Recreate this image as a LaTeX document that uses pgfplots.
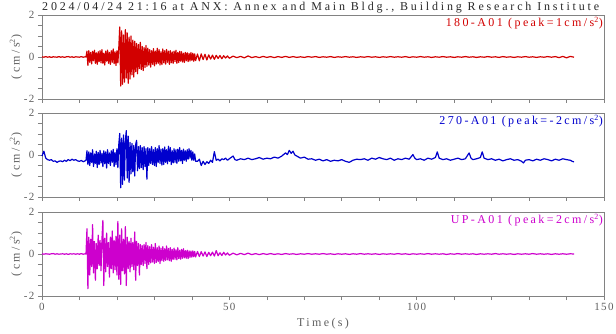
\documentclass[border=0pt]{standalone}
\usepackage{pgfplots}
\pgfplotsset{compat=1.18}
\usepackage{fontspec}
\setmainfont{Liberation Serif}
\newfontfamily\spaced[LetterSpace=20]{Liberation Serif}
\newfontfamily\tspaced[LetterSpace=23.5]{Liberation Serif}
\newfontfamily\tickspaced[LetterSpace=12]{Liberation Serif}
\definecolor{cred}{RGB}{210,0,0}
\definecolor{cblue}{RGB}{0,0,205}
\definecolor{cmag}{RGB}{205,0,205}
\definecolor{axgray}{RGB}{130,130,130}
\definecolor{lblgray}{RGB}{95,95,95}
\definecolor{ttl}{RGB}{40,40,40}
\newcommand{\lblfont}{\spaced\fontsize{12}{12}\selectfont}
\newcommand{\ttlfont}{\tspaced\fontsize{12}{12}\selectfont}
\newcommand{\tkfont}{\tickspaced\fontsize{11}{11}\selectfont}
\begin{document}
\begin{tikzpicture}
\pgfplotsset{
  seis/.style={
    width=562pt, height=84pt, scale only axis,
    xmin=0, xmax=150, ymin=-2, ymax=2,
    xtick={0,50,100,150}, minor xtick={10,20,30,40,60,70,80,90,110,120,130,140},
    ytick={-2,0,2}, minor ytick={-1.5,-1,-0.5,0.5,1,1.5},
    tick align=outside, xtick pos=bottom, ytick pos=left,
    major tick length=4pt, minor tick length=4pt,
    axis line style={draw=axgray, line width=0.8pt},
    every tick/.style={draw=axgray, line width=0.6pt},
    tick label style={font=\tkfont, text=lblgray},
    /pgf/number format/assume math mode=true,
    ylabel={(cm/s\textsuperscript{2})},
    ylabel style={font=\lblfont, text=lblgray, at={([xshift=-26pt]axis description cs:0,0.5)}, anchor=center},
    clip=false,
  },
  sig/.style={line width=1.2pt, line join=round},
}
\begin{axis}[seis, at={(42pt,-99pt)}, anchor=south west, xticklabels={}]
\addplot[draw=cred, sig] coordinates {
(0,0.01)(0.5,-0.01)(1,0.02)(1.5,-0.01)(2,0.01)(2.5,-0.02)(3,0.01)(3.5,0)(4,-0.01)(4.5,0.02)(5,-0.01)(5.5,0.01)(6,-0.02)(6.5,0.01)(7,0.02)(7.5,-0.01)(8,0.01)(8.5,-0.02)(9,0.01)(9.5,0)(10,-0.01)(10.5,0.02)(11,-0.01)(11.5,0.01)(11.75,0)
(12,0.28)(12.25,-0.40)(12.5,0.30)(12.75,-0.25)(13,0.22)(13.25,-0.33)(13.5,0.27)(13.75,-0.18)(14,0.32)(14.25,-0.30)(14.5,0.20)(14.75,-0.35)(15,0.25)(15.25,-0.22)(15.5,0.30)(15.75,-0.28)(16,0.35)(16.25,-0.30)(16.5,0.18)(16.75,-0.38)(17,0.28)(17.25,-0.20)(17.5,0.33)(17.75,-0.30)(18,0.22)(18.25,-0.35)(18.5,0.30)(18.75,-0.25)(19,0.38)(19.25,-0.32)(19.5,0.25)(19.75,-0.40)(20,0.30)(20.25,-0.28)(20.5,0.45)
(20.75,1.43)(21,-1.38)(21.25,1.25)(21.5,-1.30)(21.75,1.05)(22,-1.20)(22.25,1.30)(22.5,-1.00)(22.75,1.15)(23,-1.25)(23.25,0.95)(23.5,-1.05)(23.75,1.00)(24,-0.85)(24.25,0.80)(24.5,-0.95)(24.75,0.75)(25,-0.70)(25.25,0.65)(25.5,-0.80)(25.75,0.60)(26,-0.55)(26.25,0.70)(26.5,-0.60)(26.75,0.50)(27,-0.65)(27.25,0.45)(27.5,-0.50)(27.75,0.55)(28,-0.45)
(28.25,0.42)(28.5,-0.38)(28.75,0.35)(29,-0.48)(29.25,0.30)(29.5,-0.35)(29.75,0.40)(30,-0.42)(30.25,0.28)(30.5,-0.33)(30.75,0.42)(31,-0.30)(31.25,0.35)(31.5,-0.38)(31.75,0.25)(32,-0.36)(32.25,0.38)(32.5,-0.28)(32.75,0.30)(33,-0.34)(33.25,0.36)(33.5,-0.25)(33.75,0.28)(34,-0.35)(34.25,0.30)(34.5,-0.27)(34.75,0.24)(35,-0.30)(35.25,0.28)(35.5,-0.22)(35.75,0.32)(36,-0.30)(36.25,0.22)(36.5,-0.26)(36.75,0.27)(37,-0.20)(37.25,0.25)(37.5,-0.24)(37.75,0.18)(38,-0.26)(38.25,0.22)(38.5,-0.18)(38.75,0.20)(39,-0.22)(39.25,0.17)(39.5,-0.19)(39.75,0.21)(40,-0.16)(40.25,0.18)(40.5,-0.20)(40.75,0.15)(41,-0.17)
(41.5,0.14)(42,-0.18)(42.5,0.15)(43,-0.12)(43.5,0.13)(44,-0.14)(44.5,0.10)(45,-0.10)(45.5,0.09)(46,-0.11)(46.5,0.08)(47,-0.07)(47.5,0.07)(48,-0.08)(48.5,0.06)(49,-0.05)(49.5,0.05)(50,-0.06)
(51,0.04)(52,-0.03)(53,0.03)(54,-0.04)(55,0.05)(56,-0.03)(57,0.02)(58,-0.03)(59,0.03)(60,-0.02)(61,0.02)(62,-0.03)(63,0.02)(64,-0.02)(65,0.03)(66,-0.02)(67,0.02)(68,-0.02)(69,0.01)(70,-0.02)(71,0.02)(72,-0.01)(73,0.02)(74,-0.02)(75,0.01)(76,-0.01)(77,0.02)(78,-0.02)(79,0.01)(80,-0.01)(81,0.02)(82,-0.01)(83,0.01)(84,-0.02)(85,0.01)(86,-0.01)(87,0.02)(88,-0.01)(89,0.01)(90,-0.02)(91,0.01)(92,-0.01)(93,0.02)(94,-0.01)(95,0.01)(96,-0.01)(97,0.02)(98,-0.02)(99,0.01)(100,-0.01)(101,0.02)(102,-0.01)(103,0.01)(104,-0.02)(105,0.01)(106,-0.01)(107,0.02)(108,-0.01)(109,0.01)(110,-0.02)(111,0.01)(112,-0.01)(113,0.02)(114,-0.01)(115,0.01)(116,-0.02)(117,0.01)(118,-0.01)(119,0.02)(120,-0.01)(121,0.01)(122,-0.02)(123,0.02)(124,-0.01)(125,0.01)(126,-0.02)(127,0.01)(128,-0.01)(129,0.02)(130,-0.01)(131,0.01)(132,-0.02)(133,0.01)(134,-0.01)(135,0.02)(136,-0.01)(137,0.02)(138,-0.03)(139,0.03)(140,-0.04)(141,0.03)(142,-0.01)
};
\node[anchor=north east, inner sep=0pt, text=cred, font=\lblfont] at ([xshift=-1pt,yshift=-2pt]rel axis cs:1,1) {180-A01 (peak=1cm/s\textsuperscript{2})};
\node[anchor=base west, inner sep=0pt, text=ttl, font=\ttlfont] at ([yshift=4.5pt]rel axis cs:0,1) {2024/04/24 21:16 at ANX: Annex and Main Bldg., Building Research Institute};
\end{axis}
\begin{axis}[seis, at={(42pt,-197pt)}, anchor=south west, xticklabels={}]
\addplot[draw=cblue, sig] coordinates {
(0,-0.05)(0.5,0.18)(1,-0.15)(1.5,-0.22)(2,-0.25)(2.5,-0.22)(3,-0.30)(3.5,-0.28)(4,-0.35)(4.5,-0.30)(5,-0.28)(5.5,-0.32)(6,-0.25)(6.5,-0.30)(7,-0.22)(7.5,-0.27)(8,-0.20)(8.5,-0.25)(9,-0.22)(9.5,-0.28)(10,-0.30)(10.5,-0.26)(11,-0.32)(11.5,-0.28)(11.75,-0.25)
(12,0.20)(12.25,-0.45)(12.5,0.15)(12.75,-0.50)(13,0.10)(13.25,-0.35)(13.5,0.25)(13.75,-0.55)(14,0.05)(14.25,-0.40)(14.5,0.18)(14.75,-0.60)(15,0.12)(15.25,-0.45)(15.5,0.22)(15.75,-0.38)(16,0.08)(16.25,-0.55)(16.5,0.20)(16.75,-0.42)(17,0.15)(17.25,-0.62)(17.5,0.25)(17.75,-0.40)(18,0.10)(18.25,-0.50)(18.5,0.20)(18.75,-0.35)(19,0.27)(19.25,-0.55)(19.5,0.12)(19.75,-0.45)(20,0.30)(20.25,-0.60)(20.5,0.50)
(20.75,1.03)(21,-1.56)(21.25,0.80)(21.5,-1.40)(21.75,0.95)(22,-1.20)(22.25,0.70)(22.5,1.16)(22.75,-1.10)(23,0.90)(23.25,-1.30)(23.5,0.60)(23.75,-0.90)(24,0.55)(24.25,-0.80)(24.5,0.45)(24.75,-1.00)(25,0.50)(25.25,0.70)(25.5,-0.75)(25.75,0.40)(26,-0.65)(26.25,0.45)(26.5,-0.60)(26.75,0.35)(27,-0.70)(27.25,0.40)(27.5,-0.55)(27.75,0.30)(28,-1.15)
(28.25,0.35)(28.5,-0.50)(28.75,0.30)(29,-0.40)(29.25,0.40)(29.5,-0.45)(29.75,0.25)(30,-0.50)(30.25,0.35)(30.5,-0.55)(30.75,0.30)(31,-0.35)(31.25,0.45)(31.5,-0.40)(31.75,0.28)(32,-0.48)(32.25,0.30)(32.5,-0.45)(32.75,0.38)(33,-0.35)(33.25,0.25)(33.5,-0.42)(33.75,0.42)(34,-0.30)(34.25,0.35)(34.5,-0.45)(34.75,0.20)(35,-0.38)(35.25,0.30)(35.5,-0.35)(35.75,0.25)(36,-0.40)(36.25,0.28)(36.5,-0.30)(36.75,0.35)(37,-0.28)(37.25,0.22)(37.5,-0.40)(37.75,0.28)(38,-0.25)(38.25,0.20)(38.5,-0.30)(38.75,0.25)(39,-0.20)(39.25,0.30)(39.5,-0.15)(39.75,0.22)(40,-0.25)(40.25,0.15)(40.5,-0.25)(40.75,0.05)(41,-0.30)
(41.5,-0.30)(42,-0.20)(42.5,-0.50)(43,-0.30)(43.5,-0.45)(44,-0.32)(44.5,-0.40)(45,-0.25)(45.5,-0.35)(46,0.16)(46.5,-0.25)(47,-0.20)(47.5,-0.28)(48,-0.18)(48.5,-0.22)(49,-0.15)(49.5,-0.25)(50,-0.18)
(51,-0.05)(51.5,-0.22)(52,-0.25)(53,-0.18)(54,-0.22)(55,-0.15)(56,-0.22)(57,-0.18)(58,-0.12)(59,-0.20)(60,-0.15)(61,-0.18)(62,-0.10)(63,-0.15)(64,-0.05)(65,0.10)(65.5,0.02)(66,0.22)(66.5,0.08)(67,0.18)(67.5,0)(68,-0.05)(69,-0.15)(70,-0.10)(71,-0.20)(72,-0.18)(73,-0.25)(74,-0.20)(75,-0.28)(76,-0.22)(77,-0.30)(78,-0.25)(79,-0.28)(80,-0.22)(81,-0.30)(82,-0.35)(83,-0.25)(84,-0.20)
(85,-0.22)(86,-0.18)(87,-0.25)(88,-0.15)(89,-0.20)(90,-0.12)(91,-0.18)(92,-0.22)(93,-0.15)(94,-0.25)(95,-0.18)(96,-0.22)(97,-0.15)(98,-0.20)(99,0.02)(99.5,-0.15)(100,-0.22)(101,-0.18)(102,-0.25)(103,-0.15)(104,-0.20)(105,-0.12)(105.5,0.15)(106,-0.15)(107,-0.22)(108,-0.18)(109,-0.25)(110,-0.20)(111,-0.15)(112,-0.22)(113,-0.18)(114,0.10)(114.5,-0.15)(115,-0.22)(116,-0.18)(117,-0.12)(117.5,0.15)(118,-0.15)(119,-0.22)(120,-0.18)(121,-0.25)(122,-0.20)(123,-0.28)(124,-0.22)(125,-0.18)(126,-0.25)(127,-0.22)(128,-0.30)(128.5,-0.38)(129,-0.25)(130,-0.22)(131,-0.28)(132,-0.20)(133,-0.25)(134,-0.18)(135,-0.22)(136,-0.28)(137,-0.20)(138,-0.25)(139,-0.18)(140,-0.22)(141,-0.25)(141.5,-0.30)(142,-0.33)
};
\node[anchor=north east, inner sep=0pt, text=cblue, font=\lblfont] at ([xshift=-1pt,yshift=-2pt]rel axis cs:1,1) {270-A01 (peak=-2cm/s\textsuperscript{2})};
\end{axis}
\begin{axis}[seis, at={(42pt,-296pt)}, anchor=south west, xlabel={Time(s)}, xlabel style={font=\lblfont, text=lblgray}]
\addplot[draw=cmag, sig] coordinates {
(0,0.01)(0.5,-0.01)(1,0.01)(1.5,0)(2,-0.01)(2.5,0.01)(3,0.02)(3.5,-0.01)(4,0.01)(4.5,-0.01)(5,0)(5.5,0.01)(6,-0.01)(6.5,0.01)(7,-0.02)(7.5,0.01)(8,0)(8.5,0.01)(9,-0.01)(9.5,0.01)(10,-0.01)(10.5,0.02)(11,-0.01)(11.5,0.01)(11.75,0)
(12,1.20)(12.25,-1.65)(12.5,0.80)(12.75,-1.00)(13,0.70)(13.25,-0.60)(13.5,1.40)(13.75,-0.90)(14,0.60)(14.25,-1.25)(14.5,0.50)(14.75,-0.70)(15,0.90)(15.25,-0.55)(15.5,0.65)(15.75,-0.80)(16,0.70)(16.25,1.60)(16.5,-1.50)(16.75,0.75)(17,-0.85)(17.25,1.00)(17.5,-0.60)(17.75,0.55)(18,-1.10)(18.25,0.80)(18.5,-0.70)(18.75,1.10)(19,-0.90)(19.25,0.65)(19.5,-0.75)(19.75,0.85)(20,-1.00)(20.25,1.55)(20.5,-1.20)(20.75,0.90)(21,-1.45)(21.25,1.20)(21.5,-0.80)(21.75,0.70)(22,-0.95)(22.25,1.30)(22.5,-1.50)(22.75,0.80)(23,-0.70)(23.25,0.60)(23.5,-0.85)(23.75,0.75)(24,-0.60)(24.25,0.55)(24.5,-0.75)(24.75,1.05)(25,-1.25)(25.25,0.60)(25.5,-0.55)(25.75,0.50)(26,-1.00)(26.25,0.45)(26.5,-0.50)(26.75,0.40)(27,-0.55)(27.25,0.45)(27.5,-0.45)(27.75,0.55)(28,-0.70)
(28.25,0.40)(28.5,-0.50)(28.75,0.35)(29,-0.42)(29.25,0.45)(29.5,-0.38)(29.75,0.32)(30,-0.45)(30.25,0.50)(30.5,-0.40)(30.75,0.30)(31,-0.36)(31.25,0.38)(31.5,-0.45)(31.75,0.28)(32,-0.32)(32.25,0.35)(32.5,-0.35)(32.75,0.25)(33,-0.30)(33.25,0.38)(33.5,-0.28)(33.75,0.26)(34,-0.32)(34.25,0.30)(34.5,-0.35)(34.75,0.22)(35,-0.26)(35.25,0.28)(35.5,-0.25)(35.75,0.20)(36,-0.28)(36.25,0.30)(36.5,-0.22)(36.75,0.18)(37,-0.25)(37.25,0.22)(37.5,-0.20)(37.75,0.25)(38,-0.18)(38.25,0.16)(38.5,-0.20)(38.75,0.18)(39,-0.22)(39.25,0.15)(39.5,-0.16)(39.75,0.14)(40,-0.15)(40.25,0.15)(40.5,-0.13)(40.75,0.12)(41,-0.14)
(41.5,0.12)(42,-0.12)(42.5,0.11)(43,-0.10)(43.5,0.10)(44,-0.12)(44.5,0.08)(45,-0.08)(45.5,0.09)(46,-0.10)(46.5,0.16)(47,-0.08)(47.5,0.06)(48,-0.07)(48.5,0.08)(49,-0.05)(49.5,0.05)(50,-0.06)
(51,0.04)(52,-0.04)(53,0.03)(54,-0.03)(55,0.04)(56,-0.03)(57,0.02)(58,-0.03)(59,0.02)(60,-0.02)(61,0.02)(62,-0.02)(63,0.01)(64,-0.02)(65,0.02)(66,-0.01)(67,0.01)(68,-0.02)(69,0.01)(70,-0.01)(71,0.02)(72,-0.01)(73,0.01)(74,-0.01)(75,0.02)(76,-0.01)(77,0.01)(78,-0.02)(79,0.01)(80,-0.01)(81,0.01)(82,-0.02)(83,0.01)(84,-0.01)(85,0.02)(86,-0.01)(87,0.01)(88,-0.01)(89,0.01)(90,-0.02)(91,0.01)(92,-0.01)(93,0.01)(94,-0.01)(95,0.02)(96,-0.01)(97,0.01)(98,-0.02)(99,0.01)(100,-0.01)(101,0.01)(102,-0.01)(103,0.02)(104,-0.01)(105,0.01)(106,-0.01)(107,0.01)(108,-0.02)(109,0.01)(110,-0.01)(111,0.02)(112,-0.01)(113,0.01)(114,-0.01)(115,0.01)(116,-0.02)(117,0.01)(118,-0.01)(119,0.01)(120,-0.01)(121,0.02)(122,-0.01)(123,0.01)(124,-0.01)(125,0.01)(126,-0.02)(127,0.01)(128,-0.01)(129,0.01)(130,-0.01)(131,0.02)(132,-0.01)(133,0.01)(134,-0.01)(135,0.01)(136,-0.02)(137,0.01)(138,-0.01)(139,0.01)(140,-0.01)(141,0.01)(142,0)
};
\node[anchor=north east, inner sep=0pt, text=cmag, font=\lblfont] at ([xshift=-1pt,yshift=-2pt]rel axis cs:1,1) {UP-A01 (peak=2cm/s\textsuperscript{2})};
\end{axis}
\pgfresetboundingbox
\path (0pt,0pt) rectangle (616pt,-334pt);
\end{tikzpicture}
\end{document}
